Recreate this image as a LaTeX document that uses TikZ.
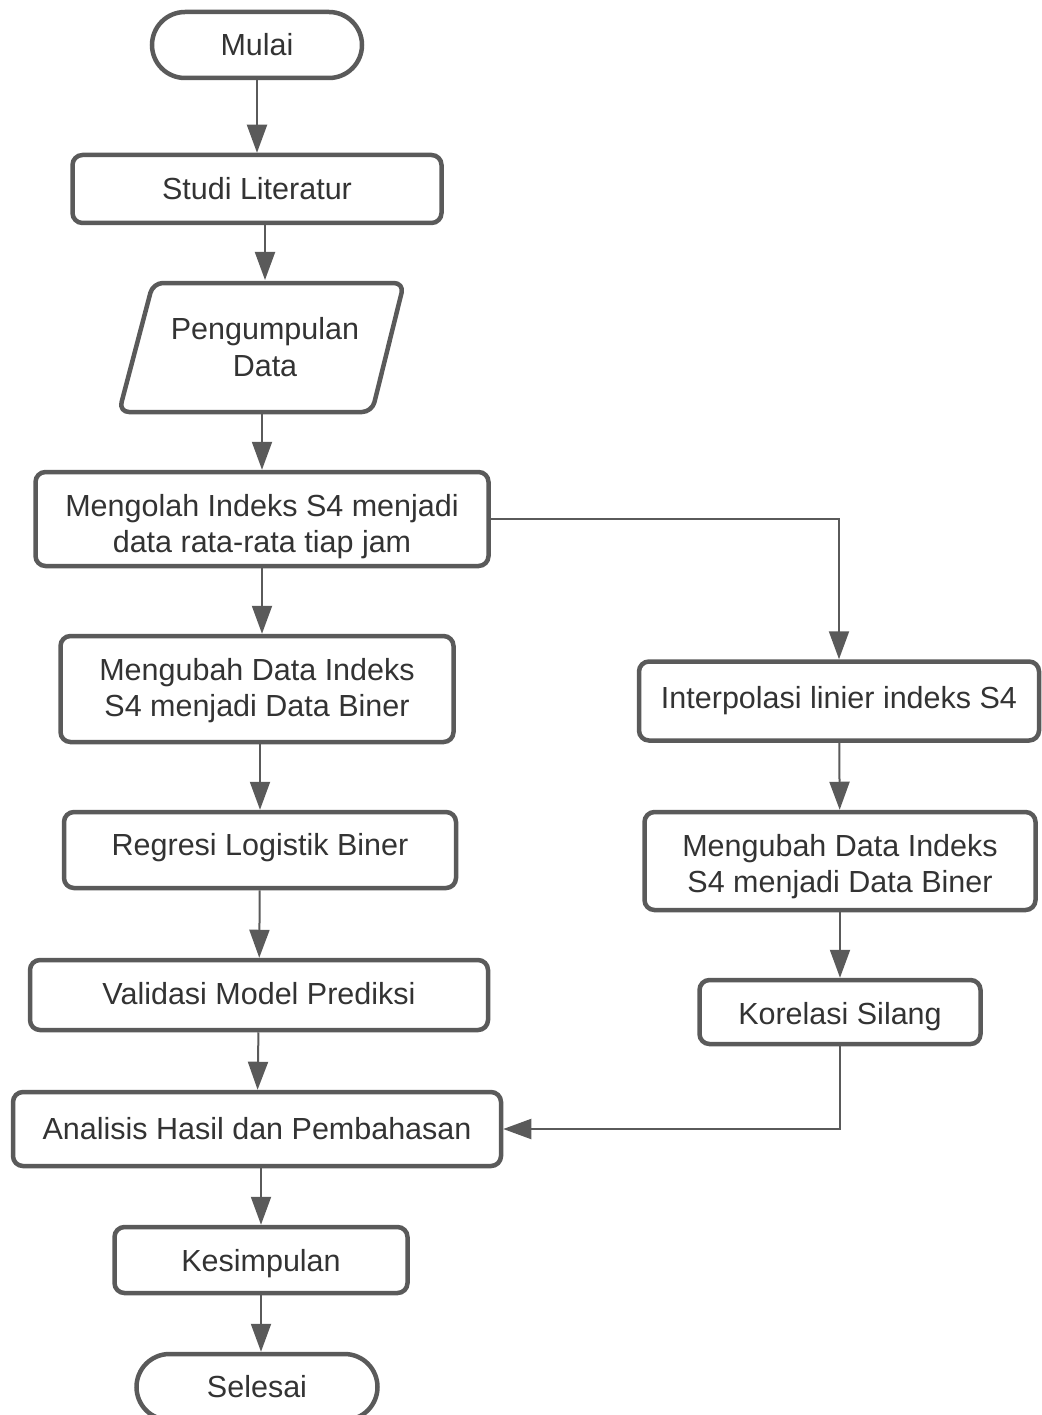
\documentclass[tikz,border=0pt]{standalone}
\usepackage{fontspec}
\setmainfont{Liberation Sans}
\usetikzlibrary{arrows.meta,calc}
\definecolor{ln}{HTML}{5A5A5A}
\definecolor{tx}{HTML}{333333}
\newcommand{\mysh}[2]{\raisebox{#1}[\height][\depth]{\begin{tabular}{@{}c@{}}#2\end{tabular}}}
\tikzset{
  box/.style={draw=ln, line width=4.5pt, rounded corners=10pt, fill=white,
    inner sep=0pt, align=center, text=tx,
    font=\fontsize{30.5}{37}\selectfont},
  term/.style={box, rounded corners=33pt},
  conn/.style={draw=ln, line width=2pt, -{Triangle[length=28pt,width=20pt]}},
}
\begin{document}
\begin{tikzpicture}[x=1pt,y=-1pt]
\useasboundingbox (0,0) rectangle (1041,1415);
% left column
\node[term, minimum width=210pt, minimum height=66pt] (mulai) at (257,45) {Mulai};
\node[box, minimum width=369pt, minimum height=68pt] (studi) at (257,189) {Studi Literatur};
% parallelogram
\node[inner sep=0pt, minimum width=250pt, minimum height=128pt, align=center, text=tx,
  font=\fontsize{30.5}{37}\selectfont] (pd) at (265,347) {Pengumpulan\\Data};
\draw[draw=ln, line width=4.5pt, rounded corners=10pt, line join=round]
  (153,283) -- (404,283) -- (372,412) -- (119,412) -- cycle;
\node[box, minimum width=453pt, minimum height=94pt] (olah) at (262,519)
  {\mysh{-8pt}{Mengolah Indeks S4 menjadi\\[-0.5pt]data rata-rata tiap jam}};
\node[box, minimum width=393pt, minimum height=106pt] (ubah1) at (257,689)
  {\mysh{-2pt}{Mengubah Data Indeks\\[-0.5pt]S4 menjadi Data Biner}};
\node[box, minimum width=392pt, minimum height=76pt] (regresi) at (260,850) {\mysh{2pt}{Regresi Logistik Biner}};
\node[box, minimum width=458pt, minimum height=70pt] (valid) at (259,995) {\mysh{-2pt}{Validasi Model Prediksi}};
\node[box, minimum width=488pt, minimum height=74pt] (anal) at (257,1129) {Analisis Hasil dan Pembahasan};
\node[box, minimum width=293pt, minimum height=66pt] (kes) at (261,1260) {\mysh{-4pt}{Kesimpulan}};
\node[term, minimum width=241pt, minimum height=66pt] (sel) at (257,1387) {Selesai};
% right column
\node[box, minimum width=400pt, minimum height=79pt] (interp) at (839,701) {Interpolasi linier indeks S4};
\node[box, minimum width=391pt, minimum height=98pt] (ubah2) at (840,861)
  {\mysh{-6pt}{Mengubah Data Indeks\\[-0.5pt]S4 menjadi Data Biner}};
\node[box, minimum width=281pt, minimum height=64pt] (kor) at (840,1012) {\mysh{-5pt}{Korelasi Silang}};
% connectors
\draw[conn] (mulai) -- (studi);
\draw[conn] (studi.south -| 265,0) -- (265,280);
\draw[conn] (262,414) -- (olah.north);
\draw[conn] (olah.south) -- (olah.south |- ubah1.north);
\draw[conn] (ubah1.south -| regresi.north) -- (regresi.north);
\draw[conn] (regresi) -- (valid);
\draw[conn] (valid) -- (anal);
\draw[conn] (anal.south -| kes.north) -- (kes.north);
\draw[conn] (kes.south) -- (kes.south |- sel.north);
\draw[conn] (olah.east) -| (interp.north);
\draw[conn] (interp) -- (ubah2);
\draw[conn] (ubah2) -- (kor);
\draw[conn] (kor.south) |- (anal.east);
\end{tikzpicture}
\end{document}
